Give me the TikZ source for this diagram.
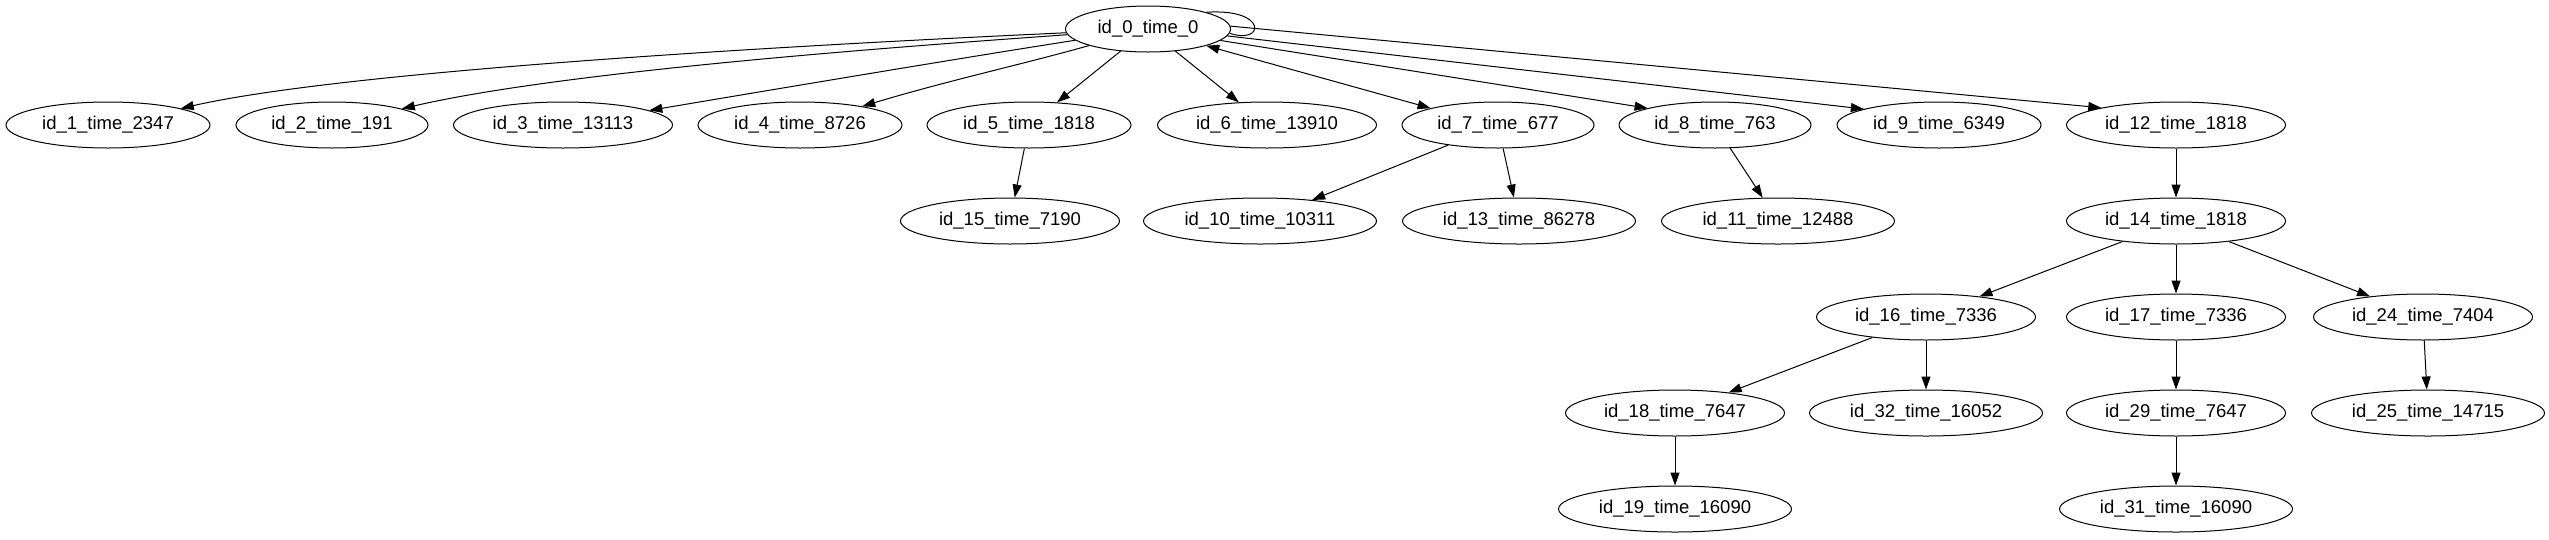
\documentclass[tikz,border=0pt]{standalone}
\usepackage{fontspec}
\setmainfont{Liberation Sans}
\usetikzlibrary{shapes.geometric,arrows.meta}
\begin{document}
\begin{tikzpicture}[x=1pt,y=-1pt,
  nd/.style={draw,ellipse,inner sep=0pt,minimum height=46pt,line width=1pt,font=\fontsize{18.5}{22}\selectfont},
  wa/.style={nd,minimum width=165pt},
  wb/.style={nd,minimum width=192pt},
  wc/.style={nd,minimum width=204pt},
  wd/.style={nd,minimum width=219pt},
  we/.style={nd,minimum width=233pt},
  edge/.style={line width=1pt,-{Triangle[length=13pt,width=9pt]}},
  both/.style={line width=1pt,{Triangle[length=13pt,width=9pt]}-{Triangle[length=13pt,width=9pt]}},
  plain/.style={line width=1pt},
  ]
\useasboundingbox (0,0) rectangle (2549,539);
\node[wa] (n0) at (1148,29) {id\_0\_time\_0};
% row 1
\node[wc] (n1) at (108,125) {id\_1\_time\_2347};
\node[wb] (n2) at (332,125) {id\_2\_time\_191};
\node[wd] (n3) at (563,125) {id\_3\_time\_13113};
\node[wc] (n4) at (800,125) {id\_4\_time\_8726};
\node[wc] (n5) at (1029,125) {id\_5\_time\_1818};
\node[wd] (n6) at (1267,125) {id\_6\_time\_13910};
\node[wb] (n7) at (1498,125) {id\_7\_time\_677};
\node[wb] (n8) at (1715,125) {id\_8\_time\_763};
\node[wc] (n9) at (1939,125) {id\_9\_time\_6349};
\node[wd] (n12) at (2176,125) {id\_12\_time\_1818};
% row 2
\node[wd] (n15) at (1010,221) {id\_15\_time\_7190};
\node[we] (n10) at (1260,221) {id\_10\_time\_10311};
\node[we] (n13) at (1519,221) {id\_13\_time\_86278};
\node[we] (n11) at (1778,221) {id\_11\_time\_12488};
\node[wd] (n14) at (2176,221) {id\_14\_time\_1818};
% row 3
\node[wd] (n16) at (1926,317) {id\_16\_time\_7336};
\node[wd] (n17) at (2176,317) {id\_17\_time\_7336};
\node[wd] (n24) at (2423,317) {id\_24\_time\_7404};
% row 4
\node[wd] (n18) at (1675,413) {id\_18\_time\_7647};
\node[we] (n32) at (1926,413) {id\_32\_time\_16052};
\node[wd] (n29) at (2176,413) {id\_29\_time\_7647};
\node[we] (n25) at (2428,413) {id\_25\_time\_14715};
% row 5
\node[we] (n19) at (1675,509) {id\_19\_time\_16090};
\node[we] (n31) at (2176,509) {id\_31\_time\_16090};

% edges from id_0
\draw[edge] (n0) .. controls (800,45) and (350,70) .. (n1);
\draw[edge] (n0) .. controls (880,48) and (560,72) .. (n2);
\draw[edge] (n0) .. controls (980,55) and (800,85) .. (n3);
\draw[edge] (n0) .. controls (1020,65) and (950,80) .. (n4);
\draw[edge] (n0) -- (n5);
\draw[edge] (n0) -- (n6);
\draw[both] (n0.344) -- (n7.166);
\draw[edge] (n0.351) -- (n8.166);
\draw[edge] (n0.355) -- (n9.168);
\draw[edge] (n0.2) -- (n12.167);
\draw[plain] (n0.16) .. controls (1268,8) and (1265,45) .. (n0.357);
% lower edges
\draw[edge] (n5) -- (n15);
\draw[edge] (n7) -- (n10);
\draw[edge] (n7) -- (n13);
\draw[edge] (n8) -- (n11);
\draw[edge] (n12) -- (n14);
\draw[edge] (n14) -- (n16);
\draw[edge] (n14) -- (n17);
\draw[edge] (n14) -- (n24);
\draw[edge] (n16) -- (n18);
\draw[edge] (n16) -- (n32);
\draw[edge] (n17) -- (n29);
\draw[edge] (n24) -- (n25);
\draw[edge] (n18) -- (n19);
\draw[edge] (n29) -- (n31);
\end{tikzpicture}
\end{document}
